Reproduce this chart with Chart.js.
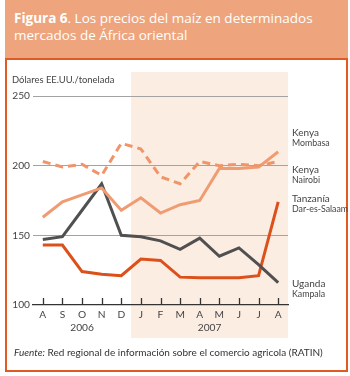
<!DOCTYPE html>
<html>
<head>
<meta charset="utf-8">
<script src="https://cdn.jsdelivr.net/npm/chart.js@4.4.1/dist/chart.umd.min.js"></script>
<style>
  body { margin: 0; width: 350px; height: 376px; background: #fff; position: relative; overflow: hidden; font-family: "Open Sans", "Noto Sans", sans-serif; }
  #head { position: absolute; left: 5px; top: 0; width: 343px; height: 58px; background: #eea57d; border-bottom: 2px solid #e05a24; }
  #head div { position: absolute; left: 9px; top: 10px; color: #fff; font-size: 13.5px; line-height: 17px; }
  #frame { position: absolute; left: 5px; top: 60px; width: 339px; height: 310px; border: 2px solid #e05a24; border-top: none; }
  #foot { position: absolute; left: 14px; top: 346px; font-family: Lato, sans-serif; font-size: 10px; color: #333; white-space: nowrap; }
  #wrap { position: absolute; left: 0; top: 0; width: 350px; height: 376px; }
</style>
</head>
<body>
<div id="head"><div><b>Figura 6</b>. Los precios del maíz en determinados<br>mercados de África oriental</div></div>
<div id="frame"></div>
<div id="wrap"><canvas id="chart"></canvas></div>
<div id="foot"><i>Fuente:</i> Red regional de información sobre el comercio agricola (RATIN)</div>
<script>
// months Aug 2006 - Aug 2007
const months = ['A', 'S', 'O', 'N', 'D', 'J', 'F', 'M', 'A', 'M', 'J', 'J', 'A'];
const years = [
  { text: '2006', from: 0, to: 4 },
  { text: '2007', from: 5, to: 12 }
];

// US$/tonne
const kenyaMombasa = [203, 199, 201, 193, 216, 212, 192, 187, 203, 200, 201, 200, 203];
const kenyaNairobi = [163, 174, 179, 184, 168, 177, 166, 172, 175, 198, 198, 199, 210];
const tanzaniaDar = [143, 143, 124, 122, 121, 133, 132, 120, 119.5, 119.5, 119.5, 121, 174];
const ugandaKampala = [147, 149, 168, 187, 150, 149, 146, 140, 148, 135, 141, 129, 116];

const seriesLabels = [
  { name: 'Kenya', sub: 'Mombasa', y: 133 },
  { name: 'Kenya', sub: 'Nairobi', y: 170 },
  { name: 'Tanzanía', sub: 'Dar-es-Salaam', y: 199 },
  { name: 'Uganda', sub: 'Kampala', y: 284 }
];

const FONT = 'Lato, "Open Sans", sans-serif';
const TEXT = '#444';

const decor = {
  id: 'decor',
  beforeDraw(chart) {
    const { ctx, chartArea, scales: { x } } = chart;
    // shaded 2007 band
    const left = x.getPixelForValue(4.5);
    ctx.save();
    ctx.fillStyle = '#fcede3';
    ctx.fillRect(left, 72, chartArea.right - left, 266);
    ctx.restore();
  },
  afterDraw(chart) {
    const { ctx, chartArea, scales: { x } } = chart;
    ctx.save();
    // month ticks above the axis line
    ctx.strokeStyle = '#333';
    ctx.lineWidth = 1.3;
    months.forEach((m, i) => {
      const px = Math.round(x.getPixelForValue(i)) + 0.5;
      ctx.beginPath();
      ctx.moveTo(px, chartArea.bottom - 7);
      ctx.lineTo(px, chartArea.bottom);
      ctx.stroke();
    });
    ctx.fillStyle = TEXT;
    ctx.font = '10.2px ' + FONT;
    ctx.textAlign = 'center';
    ctx.textBaseline = 'middle';
    years.forEach(y => {
      const cx = (x.getPixelForValue(y.from) + x.getPixelForValue(y.to)) / 2;
      ctx.fillText(y.text, cx, 328);
    });
    ctx.textAlign = 'left';
    ctx.font = '9.4px ' + FONT;
    ctx.fillText('Dólares EE.UU./tonelada', 12, 80);
    seriesLabels.forEach(s => {
      ctx.font = '10px ' + FONT;
      ctx.fillText(s.name, 292, s.y);
      ctx.font = '8.8px ' + FONT;
      ctx.fillText(s.sub, 292, s.y + 10.5);
    });
    ctx.restore();
  }
};

const line = (label, data, color, dash) => ({
  label, data,
  borderColor: color,
  borderWidth: 3,
  borderDash: dash || [],
  pointRadius: 0,
  tension: 0,
  fill: false
});

new Chart(document.getElementById('chart'), {
  type: 'line',
  data: {
    labels: months,
    datasets: [
      line('Kenya Mombasa', kenyaMombasa, '#ee9669', [8, 5]),
      line('Kenya Nairobi', kenyaNairobi, '#f09c73'),
      line('Uganda Kampala', ugandaKampala, '#505050'),
      line('Tanzanía Dar-es-Salaam', tanzaniaDar, '#dc501c')
    ]
  },
  options: {
    responsive: true,
    maintainAspectRatio: false,
    animation: false,
    layout: { padding: { left: 0, right: 62, top: 96, bottom: 0 } },
    plugins: { legend: { display: false }, tooltip: { enabled: false } },
    scales: {
      x: {
        offset: true,
        grid: { display: false, drawTicks: false },
        border: { display: true, color: '#333', width: 1.3 },
        ticks: { color: TEXT, font: { size: 10.2, family: FONT }, padding: 4, maxRotation: 0, autoSkip: false },
        afterFit(s) { s.height = 71; }
      },
      y: {
        min: 100,
        max: 250,
        border: { display: false },
        grid: {
          drawTicks: false,
          color: c => c.tick.value === 100 ? 'rgba(0,0,0,0)' : '#a3a3a3',
          lineWidth: 1
        },
        ticks: { stepSize: 50, color: TEXT, font: { size: 10.2, family: FONT }, padding: 3 },
        afterFit(s) { s.width = 33; }
      }
    }
  },
  plugins: [decor]
});
</script>
</body>
</html>
